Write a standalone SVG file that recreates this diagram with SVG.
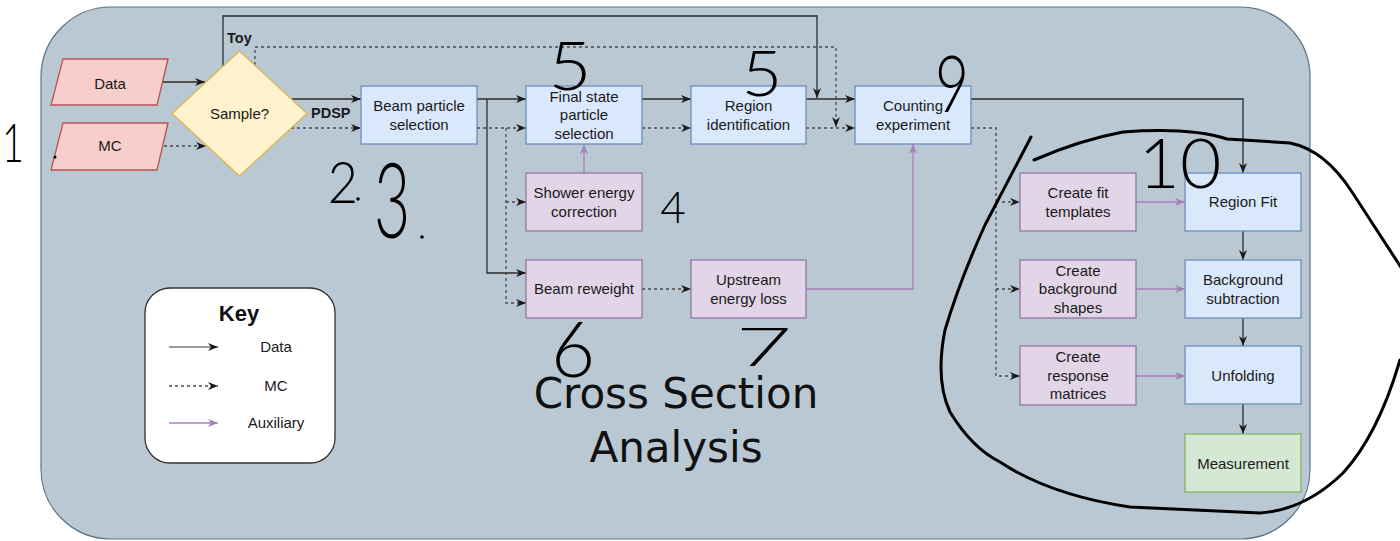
<svg xmlns="http://www.w3.org/2000/svg" width="1400" height="541" viewBox="0 0 1400 541">
<style>
.bg{fill:#bac8d3;stroke:#5b7387;stroke-width:1.2}
.blue{fill:#dae8fc;stroke:#6c8ebf;stroke-width:1.3}
.purple{fill:#e1d5e7;stroke:#9673a6;stroke-width:1.3}
.green{fill:#d5e8d4;stroke:#82b366;stroke-width:1.3}
.red{fill:#f8cecc;stroke:#b85450;stroke-width:1.3}
.yellow{fill:#fff2cc;stroke:#d6b656;stroke-width:1.3}
.t{font-family:"Liberation Sans",Arial,sans-serif;font-size:15px;fill:#1a1a1a;text-anchor:middle}
.lb{font-family:"Liberation Sans",Arial,sans-serif;font-size:14.5px;font-weight:bold;fill:#1a1a1a}
.solid{fill:none;stroke:#2b2b2b;stroke-width:1.3;marker-end:url(#ah)}
.dot{fill:none;stroke:#4a4a4a;stroke-width:1.3;stroke-dasharray:3 3;marker-end:url(#ah)}
.aux{fill:none;stroke:#a680b8;stroke-width:1.3;marker-end:url(#ap)}
.hw{font-family:Lato,"DejaVu Sans",sans-serif;font-weight:300;fill:#000;text-anchor:middle}
.big{font-family:"DejaVu Sans",sans-serif;font-size:42px;fill:#111;text-anchor:middle}
.stroke{fill:none;stroke:#000;stroke-width:3;stroke-linecap:round}
</style>
<defs>
<marker id="ah" viewBox="0 0 10 8" refX="10" refY="4" markerWidth="10" markerHeight="8" markerUnits="userSpaceOnUse" orient="auto"><path d="M0,0 L10,4 L0,8 L3,4 z" fill="#1a1a1a"/></marker>
<marker id="ap" viewBox="0 0 10 8" refX="10" refY="4" markerWidth="10" markerHeight="8" markerUnits="userSpaceOnUse" orient="auto"><path d="M0,0 L10,4 L0,8 L3,4 z" fill="#a680b8"/></marker>
</defs>

<rect class="bg" x="41" y="7" width="1269" height="532" rx="70" ry="70"/>

<g id="connectors">
<path class="solid" d="M160,82 H205"/>
<path class="dot" d="M158,146 H206"/>
<path class="solid" d="M223,66 V16 H817 V98"/>
<path class="dot" d="M255,65 V47 H836 V127"/>
<path class="solid" d="M291,99 H361"/>
<path class="dot" d="M291,128 H361"/>
<path class="solid" d="M477,99 H526"/>
<path class="solid" d="M487,99 V273 H526"/>
<path class="dot" d="M477,128 H526"/>
<path class="dot" d="M506,128 V303 H526"/>
<path class="dot" d="M506,202 H526"/>
<path class="solid" d="M642,99 H691"/>
<path class="dot" d="M642,128 H691"/>
<path class="aux" d="M584,173 V144"/>
<path class="solid" d="M806,99 H855"/>
<path class="dot" d="M806,128 H855"/>
<path class="dot" d="M642,289 H691"/>
<path class="aux" d="M806,289 H913 V144"/>
<path class="solid" d="M971,99 H1243 V173"/>
<path class="dot" d="M971,128 H996 V376 H1020"/>
<path class="dot" d="M996,202 H1020"/>
<path class="dot" d="M996,289 H1020"/>
<path class="aux" d="M1136,202 H1185"/>
<path class="aux" d="M1136,289 H1185"/>
<path class="aux" d="M1136,376 H1185"/>
<path class="solid" d="M1243,231 V260"/>
<path class="solid" d="M1243,318 V346"/>
<path class="solid" d="M1243,404 V434"/>
<text class="lb" x="227" y="43">Toy</text>
<text class="lb" x="311" y="118">PDSP</text>
</g>

<g id="data"><path class="red" d="M63,59 H168 L157,105 H51 Z"/><text class="t" x="110" y="89">Data</text></g>
<g id="mc"><path class="red" d="M63,123 H168 L157,170 H51 Z"/><text class="t" x="110" y="151">MC</text></g>
<g id="sample"><path class="yellow" d="M239.5,51 L307,113.5 L239.5,176 L172,113.5 Z"/><text class="t" x="239.5" y="119">Sample?</text></g>
<g id="beam-sel"><rect class="blue" x="361" y="86" width="116" height="58"/><text class="t" x="419" y="111">Beam particle</text><text class="t" x="419" y="129.5">selection</text></g>
<g id="final-state"><rect class="blue" x="526" y="86" width="116" height="58"/><text class="t" x="584" y="101.8">Final state</text><text class="t" x="584" y="120.3">particle</text><text class="t" x="584" y="138.8">selection</text></g>
<g id="region-id"><rect class="blue" x="691" y="86" width="115" height="58"/><text class="t" x="748.5" y="111">Region</text><text class="t" x="748.5" y="129.5">identification</text></g>
<g id="counting"><rect class="blue" x="855" y="86" width="116" height="58"/><text class="t" x="913" y="111">Counting</text><text class="t" x="913" y="129.5">experiment</text></g>
<g id="shower"><rect class="purple" x="526" y="173" width="116" height="58"/><text class="t" x="584" y="198">Shower energy</text><text class="t" x="584" y="216.5">correction</text></g>
<g id="beam-reweight"><rect class="purple" x="526" y="260" width="116" height="58"/><text class="t" x="584" y="294">Beam reweight</text></g>
<g id="upstream"><rect class="purple" x="691" y="260" width="115" height="58"/><text class="t" x="748.5" y="285">Upstream</text><text class="t" x="748.5" y="303.5">energy loss</text></g>
<g id="fit-templates"><rect class="purple" x="1020" y="173" width="116" height="58"/><text class="t" x="1078" y="198">Create fit</text><text class="t" x="1078" y="216.5">templates</text></g>
<g id="bg-shapes"><rect class="purple" x="1020" y="260" width="116" height="58"/><text class="t" x="1078" y="275.8">Create</text><text class="t" x="1078" y="294.3">background</text><text class="t" x="1078" y="312.8">shapes</text></g>
<g id="response"><rect class="purple" x="1020" y="346" width="116" height="59"/><text class="t" x="1078" y="362.3">Create</text><text class="t" x="1078" y="380.8">response</text><text class="t" x="1078" y="399.3">matrices</text></g>
<g id="region-fit"><rect class="blue" x="1185" y="173" width="116" height="58"/><text class="t" x="1243" y="207">Region Fit</text></g>
<g id="bg-sub"><rect class="blue" x="1185" y="260" width="116" height="58"/><text class="t" x="1243" y="285">Background</text><text class="t" x="1243" y="303.5">subtraction</text></g>
<g id="unfolding"><rect class="blue" x="1185" y="346" width="116" height="58"/><text class="t" x="1243" y="381">Unfolding</text></g>
<g id="measurement"><rect class="green" x="1185" y="434" width="116" height="58"/><text class="t" x="1243" y="469">Measurement</text></g>

<g id="key">
<rect x="145" y="288" width="190" height="175" rx="25" ry="25" fill="#fff" stroke="#333" stroke-width="1.3"/>
<text x="239" y="321" font-family="Liberation Sans,Arial,sans-serif" font-size="22" font-weight="bold" fill="#111" text-anchor="middle">Key</text>
<path d="M169,347 H218" fill="none" stroke="#7a7a7a" stroke-width="1.3" marker-end="url(#ah)"/>
<path class="dot" d="M169,386 H218"/>
<path class="aux" d="M169,423 H218"/>
<text class="t" x="276" y="352">Data</text>
<text class="t" x="276" y="391">MC</text>
<text class="t" x="276" y="428">Auxiliary</text>
</g>

<g id="title">
<text class="big" x="676" y="408">Cross Section</text>
<text class="big" x="676" y="462">Analysis</text>
</g>

<g id="annotations">
<path class="stroke" d="M1031,137 L985,225 Q960,280 945,330 Q935,380 950,412 Q972,448 1000,462 Q1050,495 1130,507 L1260,513 Q1305,510 1343,473 Q1378,435 1400,360"/>
<path class="stroke" d="M1034,160 Q1080,140 1123,132 Q1190,127 1227,139 L1290,143 Q1325,150 1352,192 L1406,275"/>
<text class="hw" transform="translate(13,162) scale(0.7,1)" font-size="54">1</text>
<circle cx="55" cy="157" r="1.5" fill="#000"/>
<text class="hw" transform="translate(343,203) scale(0.9,1)" font-size="58">2</text>
<circle cx="358" cy="199" r="1.8" fill="#000"/>
<text class="hw" transform="translate(392,238) scale(0.6,1)" font-size="104">3</text>
<circle cx="422" cy="237" r="1.8" fill="#000"/>
<text class="hw" transform="translate(570,90) scale(1.1,1)" font-size="68">5</text>
<text class="hw" transform="translate(762,96) scale(1.1,1)" font-size="64">5</text>
<text class="hw" transform="translate(952,112) scale(0.75,1)" font-size="78">9</text>
<text class="hw" transform="translate(673,223)" font-size="44">4</text>
<text class="hw" transform="translate(573,377)" font-size="76">6</text>
<text class="hw" transform="translate(764,366) scale(1.8,1)" font-size="54">7</text>
<text class="hw" transform="translate(1180,188) scale(1.05,1)" font-size="68">10</text>
</g>
</svg>
